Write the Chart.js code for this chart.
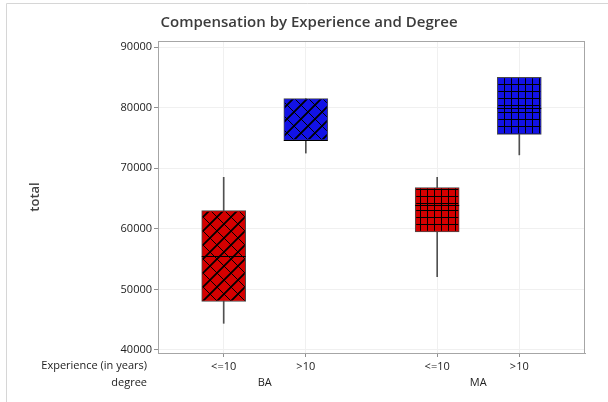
<!DOCTYPE html>
<html>
<head>
<meta charset="utf-8">
<script src="https://cdn.jsdelivr.net/npm/chart.js@4/dist/chart.umd.min.js"></script>
<style>
  html, body { margin: 0; padding: 0; background: #fff; }
  canvas { display: block; }
</style>
</head>
<body>
<canvas id="c" width="608" height="402"></canvas>
<script>
// Box positions along the x axis (two experience groups inside each degree)
const positions = [1, 2, 3.6, 4.6];
const experience = ['<=10', '>10', '<=10', '>10'];
const degree = ['BA', 'BA', 'MA', 'MA'];
const degreeGroups = ['BA', 'MA'];

// Five-number summaries of total compensation
const whiskerLow  = [44400, 72500, 52100, 72200];
const q1          = [48000, 74600, 59500, 75600];
const median      = [55500, 74600, 64000, 80000];
const q3          = [63000, 81500, 66800, 85000];
const whiskerHigh = [68500, 81500, 68500, 85000];

const yTicks = [40000, 50000, 60000, 70000, 80000, 90000];

const FONT = 'Open Sans';

const colorFor = { '<=10': '#d40000', '>10': '#1212e6' };
const hatchFor = { BA: 'diamond', MA: 'grid' };

// Hatch lines over a box, clipped to the inside of its rectangle
function drawHatch(c, kind, left, top, right, bottom) {
  c.save();
  c.beginPath();
  c.rect(left + 1, top + 1, right - left - 2, bottom - top - 2);
  c.clip();
  c.strokeStyle = '#000';
  if (kind === 'diamond') {
    const s = 14;
    // falling diagonals: x - y = k*s
    c.lineWidth = 1;
    c.beginPath();
    for (let k = Math.floor((left - bottom) / s) - 1; k * s <= right - top + s; k++) {
      c.moveTo(k * s + top - 2, top - 2);
      c.lineTo(k * s + bottom + 2, bottom + 2);
    }
    c.stroke();
    // rising diagonals: x + y = k*s
    c.lineWidth = 1.8;
    c.beginPath();
    for (let k = Math.floor((left + top) / s) - 1; k * s <= right + bottom + s; k++) {
      c.moveTo(k * s - top + 2, top - 2);
      c.lineTo(k * s - bottom - 2, bottom + 2);
    }
    c.stroke();
  } else {
    const s = 7;
    c.lineWidth = 1;
    c.beginPath();
    for (let x = Math.floor(left / s) * s; x <= right; x += s) {
      c.moveTo(x + 0.5, top);
      c.lineTo(x + 0.5, bottom);
    }
    for (let y = Math.floor(top / s) * s; y <= bottom; y += s) {
      c.moveTo(left, y + 0.5);
      c.lineTo(right, y + 0.5);
    }
    c.stroke();
  }
  c.restore();
}

const extras = {
  id: 'extras',
  beforeDraw(chart) {
    const c = chart.ctx;
    c.save();
    c.strokeStyle = '#d6d6d6';
    c.lineWidth = 1;
    c.beginPath();
    c.moveTo(6.5, chart.height);
    c.lineTo(6.5, 3.5);
    c.lineTo(chart.width, 3.5);
    c.stroke();
    c.restore();
  },
  afterDatasetsDraw(chart) {
    const c = chart.ctx;
    const y = chart.scales.y;
    const meta = chart.getDatasetMeta(0);
    meta.data.forEach((bar, i) => {
      const p = bar.getProps(['x', 'y', 'base', 'width'], true);
      const left = p.x - p.width / 2, right = p.x + p.width / 2;
      const top = Math.min(p.y, p.base), bottom = Math.max(p.y, p.base);
      drawHatch(c, hatchFor[degree[i]], left, top, right, bottom);
      // median line
      const py = Math.round(y.getPixelForValue(median[i])) + 0.5;
      c.save();
      c.strokeStyle = '#000';
      c.lineWidth = 1;
      c.beginPath();
      c.moveTo(left, py);
      c.lineTo(right, py);
      c.stroke();
      c.restore();
    });
    // plot frame
    const a = chart.chartArea;
    c.save();
    c.strokeStyle = '#a6a6a6';
    c.lineWidth = 1;
    c.strokeRect(Math.round(a.left) + 0.5, Math.round(a.top) + 0.5,
                 Math.round(a.right - a.left) - 1, Math.round(a.bottom - a.top));
    c.restore();
  },
  afterDraw(chart) {
    const c = chart.ctx;
    const x = chart.scales.x;
    const a = chart.chartArea;
    const row1 = a.bottom + 13;
    const row2 = a.bottom + 30;
    c.save();
    c.fillStyle = '#222';
    c.font = '11px "' + FONT + '"';
    c.textBaseline = 'middle';
    c.textAlign = 'right';
    c.fillText('Experience (in years)', 147, row1);
    c.fillText('degree', 147, row2);
    c.textAlign = 'center';
    degreeGroups.forEach(g => {
      const idx = positions.map((p, i) => degree[i] === g ? p : null).filter(v => v !== null);
      const mid = (Math.min(...idx) + Math.max(...idx)) / 2;
      c.fillText(g, x.getPixelForValue(mid), row2);
    });
    c.restore();
  }
};

new Chart(document.getElementById('c'), {
  type: 'bar',
  data: {
    datasets: [
      {
        label: 'box',
        data: positions.map((p, i) => ({ x: p, y: [q1[i], q3[i]] })),
        backgroundColor: experience.map(e => colorFor[e]),
        borderColor: '#4a4a4a',
        borderWidth: 1,
        borderSkipped: false,
        barThickness: 44,
        grouped: false,
        order: 0
      },
      {
        label: 'whisker',
        data: positions.map((p, i) => ({ x: p, y: [whiskerLow[i], whiskerHigh[i]] })),
        backgroundColor: '#505050',
        borderWidth: 0,
        barThickness: 1,
        grouped: false,
        order: 1
      }
    ]
  },
  options: {
    responsive: false,
    animation: false,
    devicePixelRatio: 1,
    layout: { padding: { left: 33, right: 23, top: 0, bottom: 0 } },
    plugins: {
      legend: { display: false },
      tooltip: { enabled: false },
      title: {
        display: true,
        text: 'Compensation by Experience and Degree',
        color: '#3c3c3c',
        font: { family: FONT, size: 15, weight: '600' },
        padding: { top: 14, bottom: 9 }
      }
    },
    scales: {
      x: {
        type: 'linear',
        min: 0.2,
        max: 5.4,
        offset: false,
        afterBuildTicks: ax => { ax.ticks = positions.map(v => ({ value: v })); },
        afterFit: ax => { ax.height = 49; },
        ticks: {
          autoSkip: false,
          maxRotation: 0,
          padding: 3,
          color: '#222',
          font: { family: FONT, size: 11 },
          callback: (v, i) => experience[i]
        },
        grid: { offset: false, color: '#f0f0f0', tickColor: '#909090', tickLength: 4 },
        border: { color: '#a6a6a6' }
      },
      y: {
        min: 39500,
        max: 91000,
        afterBuildTicks: ax => { ax.ticks = yTicks.map(v => ({ value: v })); },
        afterFit: ax => { ax.width = 125; },
        ticks: {
          padding: 2,
          color: '#222',
          font: { family: FONT, size: 11 },
          callback: v => String(v)
        },
        grid: { color: '#f0f0f0', tickColor: '#909090', tickLength: 4 },
        border: { color: '#a6a6a6' },
        title: {
          display: true,
          text: 'total',
          color: '#444',
          font: { family: FONT, size: 13, weight: '600' },
          padding: { top: -6, bottom: 0 }
        }
      }
    }
  },
  plugins: [extras]
});
</script>
</body>
</html>
